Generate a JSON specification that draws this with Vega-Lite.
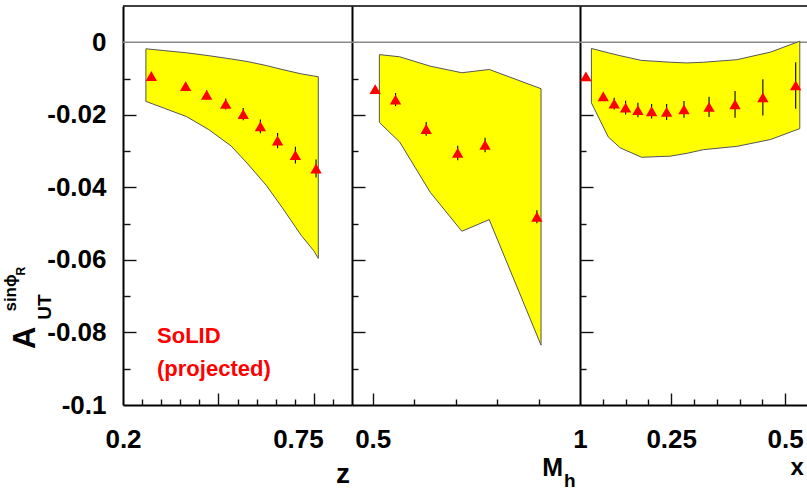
{
  "$schema": "https://vega.github.io/schema/vega-lite/v6.json",
  "width": 684,
  "height": 399,
  "autosize": {"type": "none"},
  "padding": {"left": 123, "top": 6, "right": 0, "bottom": 90},
  "background": "white",
  "config": {
    "view": {"stroke": null},
    "font": "Liberation Sans",
    "axis": {
      "grid": false,
      "domain": false,
      "labelFont": "Liberation Sans",
      "labelFontWeight": "bold",
      "labelFontSize": 26,
      "labelColor": "black",
      "tickColor": "#111111",
      "tickWidth": 1.4,
      "labelFlush": false,
      "labelOverlap": false,
      "zindex": 1,
      "domainColor": "black",
      "domainWidth": 2,
      "title": null
    },
    "text": {"font": "Liberation Sans", "fontWeight": "bold", "color": "black"}
  },
  "datasets": {
    "zBand": [
      {"v": 0.272, "hi": -0.0018, "lo": -0.0163},
      {"v": 0.33, "hi": -0.0023, "lo": -0.0182},
      {"v": 0.40, "hi": -0.0029, "lo": -0.0205},
      {"v": 0.47, "hi": -0.0037, "lo": -0.0241},
      {"v": 0.54, "hi": -0.0046, "lo": -0.0286},
      {"v": 0.59, "hi": -0.0053, "lo": -0.0333},
      {"v": 0.65, "hi": -0.0064, "lo": -0.0394},
      {"v": 0.70, "hi": -0.0075, "lo": -0.0455},
      {"v": 0.76, "hi": -0.0087, "lo": -0.0532},
      {"v": 0.80, "hi": -0.0093, "lo": -0.0575},
      {"v": 0.814, "hi": -0.0095, "lo": -0.0596}
    ],
    "zPts": [
      {"v": 0.289, "a": -0.0093, "err": 0.0010},
      {"v": 0.397, "a": -0.0121, "err": 0.0011},
      {"v": 0.463, "a": -0.0145, "err": 0.0013},
      {"v": 0.523, "a": -0.0170, "err": 0.0015},
      {"v": 0.578, "a": -0.0198, "err": 0.0017},
      {"v": 0.632, "a": -0.0232, "err": 0.0019},
      {"v": 0.686, "a": -0.0271, "err": 0.0021},
      {"v": 0.742, "a": -0.0311, "err": 0.0023},
      {"v": 0.807, "a": -0.0348, "err": 0.0025}
    ],
    "mBand": [
      {"v": 0.516, "hi": -0.0034, "lo": -0.0221},
      {"v": 0.565, "hi": -0.0040, "lo": -0.0275},
      {"v": 0.639, "hi": -0.0066, "lo": -0.0414},
      {"v": 0.715, "hi": -0.0084, "lo": -0.0521},
      {"v": 0.781, "hi": -0.0075, "lo": -0.0489},
      {"v": 0.906, "hi": -0.0128, "lo": -0.0835}
    ],
    "mPts": [
      {"v": 0.506, "a": -0.0129, "err": 0.0008},
      {"v": 0.555, "a": -0.0158, "err": 0.0018},
      {"v": 0.629, "a": -0.0239, "err": 0.0019},
      {"v": 0.705, "a": -0.0305, "err": 0.0020},
      {"v": 0.771, "a": -0.0283, "err": 0.0020},
      {"v": 0.896, "a": -0.0481, "err": 0.0018}
    ],
    "xBand": [
      {"v": 0.075, "hi": -0.0017, "lo": -0.0167},
      {"v": 0.112, "hi": -0.0029, "lo": -0.0261},
      {"v": 0.138, "hi": -0.0037, "lo": -0.0291},
      {"v": 0.185, "hi": -0.0050, "lo": -0.0317},
      {"v": 0.248, "hi": -0.0055, "lo": -0.0314},
      {"v": 0.285, "hi": -0.0057, "lo": -0.0306},
      {"v": 0.321, "hi": -0.0055, "lo": -0.0296},
      {"v": 0.394, "hi": -0.0048, "lo": -0.0287},
      {"v": 0.468, "hi": -0.0027, "lo": -0.0268},
      {"v": 0.532, "hi": 0.0003, "lo": -0.0238}
    ],
    "xPts": [
      {"v": 0.063, "a": -0.0094, "err": 0.0008},
      {"v": 0.101, "a": -0.0149, "err": 0.0010},
      {"v": 0.125, "a": -0.0169, "err": 0.0016},
      {"v": 0.150, "a": -0.0180, "err": 0.0019},
      {"v": 0.177, "a": -0.0187, "err": 0.0020},
      {"v": 0.207, "a": -0.0190, "err": 0.0020},
      {"v": 0.240, "a": -0.0192, "err": 0.0022},
      {"v": 0.278, "a": -0.0185, "err": 0.0023},
      {"v": 0.333, "a": -0.0178, "err": 0.0028},
      {"v": 0.390, "a": -0.0171, "err": 0.0037},
      {"v": 0.451, "a": -0.0152, "err": 0.0050},
      {"v": 0.523, "a": -0.0119, "err": 0.0064}
    ]
  },
  "resolve": {"scale": {"x": "independent"}, "axis": {"x": "independent", "y": "independent"}},
  "layer": [
    {
      "resolve": {"axis": {"x": "independent", "y": "independent"}},
      "layer": [
        {
          "data": {"name": "zBand"},
          "mark": {"type": "area", "color": "#ffff00", "stroke": "#555555", "strokeWidth": 1, "opacity": 1},
          "encoding": {
            "x": {"field": "v", "type": "quantitative",
                  "scale": {"domain": [0.2, 0.92], "range": [0, 229], "nice": false, "zero": false},
                  "axis": {"orient": "bottom", "values": [0.2, 0.75], "ticks": false, "domain": true, "labelPadding": 21,
                           "labelExpr": "datum.value < 0.5 ? '0.2' : '0.75'"}},
            "y": {"field": "hi", "type": "quantitative",
                  "scale": {"domain": [-0.1, 0.01], "nice": false, "zero": false},
                  "axis": {"orient": "left", "values": [0, -0.02, -0.04, -0.06, -0.08, -0.1], "ticks": false, "labelPadding": 17, "domain": true,
                           "labelExpr": "datum.value == 0 ? '0' : '-' + format(-datum.value, '~g')"}},
            "y2": {"field": "lo"}
          }
        },
        {
          "data": {"values": [{}]},
          "mark": {"type": "rule", "color": "#888888", "strokeWidth": 1.7},
          "encoding": {"y": {"datum": 0, "type": "quantitative", "scale": {"domain": [-0.1, 0.01], "nice": false, "zero": false}, "axis": null}}
        },
        {
          "data": {"values": [{}]},
          "mark": {"type": "rule", "color": "black", "strokeWidth": 1.7},
          "encoding": {"y": {"datum": 0.01, "type": "quantitative", "scale": {"domain": [-0.1, 0.01], "nice": false, "zero": false}, "axis": null}}
        },
        {
          "data": {"name": "zPts"},
          "mark": {"type": "errorbar", "color": "black", "thickness": 1.1},
          "encoding": {
            "x": {"field": "v", "type": "quantitative", "scale": {"domain": [0.2, 0.92], "range": [0, 229], "nice": false, "zero": false}, "axis": null},
            "y": {"field": "a", "type": "quantitative", "scale": {"domain": [-0.1, 0.01], "nice": false, "zero": false}, "axis": null},
            "yError": {"field": "err"}
          }
        },
        {
          "data": {"name": "zPts"},
          "mark": {"type": "point", "shape": "triangle-up", "filled": true, "color": "#ff0000", "size": 130, "opacity": 1},
          "encoding": {
            "x": {"field": "v", "type": "quantitative",
                  "scale": {"domain": [0.2, 0.92], "range": [0, 229], "nice": false, "zero": false},
                  "axis": {"orient": "bottom", "values": [0.5, 0.8], "offset": -12, "tickSize": 12, "labels": false}},
            "y": {"field": "a", "type": "quantitative",
                  "scale": {"domain": [-0.1, 0.01], "nice": false, "zero": false},
                  "axis": {"orient": "left", "values": [-0.02, -0.04, -0.06, -0.08], "offset": -13, "tickSize": 13, "labels": false}}
          }
        },
        {
          "data": {"values": [{}]},
          "mark": {"type": "text", "text": "SoLID", "fontSize": 22, "color": "#ff0000", "align": "left", "baseline": "alphabetic"},
          "encoding": {
            "x": {"datum": 0.307, "type": "quantitative",
                  "scale": {"domain": [0.2, 0.92], "range": [0, 229], "nice": false, "zero": false},
                  "axis": {"orient": "bottom", "values": [0.26, 0.32, 0.38, 0.44, 0.56, 0.62, 0.68, 0.74, 0.86], "offset": -6, "tickSize": 6, "labels": false}},
            "y": {"datum": -0.0828, "type": "quantitative",
                  "scale": {"domain": [-0.1, 0.01], "nice": false, "zero": false},
                  "axis": {"orient": "left", "values": [-0.01, -0.03, -0.05, -0.07, -0.09], "offset": -7, "tickSize": 7, "labels": false}}
          }
        },
        {
          "data": {"values": [{}]},
          "mark": {"type": "text", "text": "(projected)", "fontSize": 22, "color": "#ff0000", "align": "left", "baseline": "alphabetic"},
          "encoding": {
            "x": {"datum": 0.307, "type": "quantitative", "scale": {"domain": [0.2, 0.92], "range": [0, 229], "nice": false, "zero": false}, "axis": null},
            "y": {"datum": -0.0920, "type": "quantitative", "scale": {"domain": [-0.1, 0.01], "nice": false, "zero": false}, "axis": null}
          }
        },
        {
          "data": {"values": [{}]},
          "mark": {"type": "text", "text": "A", "fontSize": 31, "angle": 270, "align": "center", "baseline": "middle"},
          "encoding": {
            "x": {"datum": -0.105, "type": "quantitative", "scale": {"domain": [0.2, 0.92], "range": [0, 229], "nice": false, "zero": false}, "axis": null},
            "y": {"datum": -0.0815, "type": "quantitative", "scale": {"domain": [-0.1, 0.01], "nice": false, "zero": false}, "axis": null}
          }
        },
        {
          "data": {"values": [{}]},
          "mark": {"type": "text", "text": "UT", "fontSize": 19, "angle": 270, "align": "center", "baseline": "middle"},
          "encoding": {
            "x": {"datum": -0.0452, "type": "quantitative", "scale": {"domain": [0.2, 0.92], "range": [0, 229], "nice": false, "zero": false}, "axis": null},
            "y": {"datum": -0.0730, "type": "quantitative", "scale": {"domain": [-0.1, 0.01], "nice": false, "zero": false}, "axis": null}
          }
        },
        {
          "data": {"values": [{}]},
          "mark": {"type": "text", "text": "sinϕ", "fontSize": 17, "angle": 270, "align": "center", "baseline": "middle"},
          "encoding": {
            "x": {"datum": -0.152, "type": "quantitative", "scale": {"domain": [0.2, 0.92], "range": [0, 229], "nice": false, "zero": false}, "axis": null},
            "y": {"datum": -0.0691, "type": "quantitative", "scale": {"domain": [-0.1, 0.01], "nice": false, "zero": false}, "axis": null}
          }
        },
        {
          "data": {"values": [{}]},
          "mark": {"type": "text", "text": "R", "fontSize": 12, "angle": 270, "align": "center", "baseline": "middle"},
          "encoding": {
            "x": {"datum": -0.1207, "type": "quantitative", "scale": {"domain": [0.2, 0.92], "range": [0, 229], "nice": false, "zero": false}, "axis": null},
            "y": {"datum": -0.0631, "type": "quantitative", "scale": {"domain": [-0.1, 0.01], "nice": false, "zero": false}, "axis": null}
          }
        },
        {
          "data": {"values": [{}]},
          "mark": {"type": "text", "text": "z", "fontSize": 28, "align": "right", "baseline": "alphabetic"},
          "encoding": {
            "x": {"datum": 0.9137, "type": "quantitative", "scale": {"domain": [0.2, 0.92], "range": [0, 229], "nice": false, "zero": false}, "axis": null},
            "y": {"datum": -0.1215, "type": "quantitative", "scale": {"domain": [-0.1, 0.01], "nice": false, "zero": false}, "axis": null}
          }
        }
      ]
    },
    {
      "resolve": {"axis": {"x": "independent", "y": "independent"}},
      "layer": [
        {
          "data": {"name": "mBand"},
          "mark": {"type": "area", "color": "#ffff00", "stroke": "#555555", "strokeWidth": 1, "opacity": 1},
          "encoding": {
            "x": {"field": "v", "type": "quantitative",
                  "scale": {"domain": [0.45, 1.0], "range": [229, 457], "nice": false, "zero": false},
                  "axis": {"orient": "bottom", "values": [0.5, 1.0], "ticks": false, "domain": true, "labelPadding": 21,
                           "labelExpr": "datum.value > 0.75 ? '1' : '0.5'"}},
            "y": {"field": "hi", "type": "quantitative",
                  "scale": {"domain": [-0.1, 0.01], "nice": false, "zero": false},
                  "axis": {"orient": "left", "offset": -229, "ticks": false, "labels": false, "domain": true}},
            "y2": {"field": "lo"}
          }
        },
        {
          "data": {"name": "mPts"},
          "mark": {"type": "errorbar", "color": "black", "thickness": 1.1},
          "encoding": {
            "x": {"field": "v", "type": "quantitative", "scale": {"domain": [0.45, 1.0], "range": [229, 457], "nice": false, "zero": false}, "axis": null},
            "y": {"field": "a", "type": "quantitative", "scale": {"domain": [-0.1, 0.01], "nice": false, "zero": false}, "axis": null},
            "yError": {"field": "err"}
          }
        },
        {
          "data": {"name": "mPts"},
          "mark": {"type": "point", "shape": "triangle-up", "filled": true, "color": "#ff0000", "size": 130, "opacity": 1},
          "encoding": {
            "x": {"field": "v", "type": "quantitative",
                  "scale": {"domain": [0.45, 1.0], "range": [229, 457], "nice": false, "zero": false},
                  "axis": {"orient": "bottom", "values": [0.5], "offset": -12, "tickSize": 12, "labels": false}},
            "y": {"field": "a", "type": "quantitative",
                  "scale": {"domain": [-0.1, 0.01], "nice": false, "zero": false},
                  "axis": {"orient": "left", "values": [-0.02, -0.04, -0.06, -0.08], "offset": -242, "tickSize": 13, "labels": false}}
          }
        },
        {
          "data": {"values": [{}]},
          "mark": {"type": "text", "text": "M", "fontSize": 25, "align": "right", "baseline": "alphabetic"},
          "encoding": {
            "x": {"datum": 0.959, "type": "quantitative",
                  "scale": {"domain": [0.45, 1.0], "range": [229, 457], "nice": false, "zero": false},
                  "axis": {"orient": "bottom", "values": [0.6, 0.7, 0.8, 0.9], "offset": -6, "tickSize": 6, "labels": false}},
            "y": {"datum": -0.1196, "type": "quantitative",
                  "scale": {"domain": [-0.1, 0.01], "nice": false, "zero": false},
                  "axis": {"orient": "left", "values": [-0.01, -0.03, -0.05, -0.07, -0.09], "offset": -235, "tickSize": 6, "labels": false}}
          }
        },
        {
          "data": {"values": [{}]},
          "mark": {"type": "text", "text": "h", "fontSize": 19, "align": "left", "baseline": "alphabetic"},
          "encoding": {
            "x": {"datum": 0.9615, "type": "quantitative", "scale": {"domain": [0.45, 1.0], "range": [229, 457], "nice": false, "zero": false}, "axis": null},
            "y": {"datum": -0.1225, "type": "quantitative", "scale": {"domain": [-0.1, 0.01], "nice": false, "zero": false}, "axis": null}
          }
        }
      ]
    },
    {
      "resolve": {"axis": {"x": "independent", "y": "independent"}},
      "layer": [
        {
          "data": {"name": "xBand"},
          "mark": {"type": "area", "color": "#ffff00", "stroke": "#555555", "strokeWidth": 1, "opacity": 1},
          "encoding": {
            "x": {"field": "v", "type": "quantitative",
                  "scale": {"domain": [0.05, 0.55], "range": [457, 685], "nice": false, "zero": false},
                  "axis": {"orient": "bottom", "values": [0.25, 0.5], "ticks": false, "domain": true, "labelPadding": 21,
                           "labelExpr": "datum.value > 0.4 ? '0.5' : '0.25'"}},
            "y": {"field": "hi", "type": "quantitative",
                  "scale": {"domain": [-0.1, 0.01], "nice": false, "zero": false},
                  "axis": {"orient": "left", "offset": -457, "ticks": false, "labels": false, "domain": true}},
            "y2": {"field": "lo"}
          }
        },
        {
          "data": {"name": "xPts"},
          "mark": {"type": "errorbar", "color": "black", "thickness": 1.1},
          "encoding": {
            "x": {"field": "v", "type": "quantitative", "scale": {"domain": [0.05, 0.55], "range": [457, 685], "nice": false, "zero": false}, "axis": null},
            "y": {"field": "a", "type": "quantitative", "scale": {"domain": [-0.1, 0.01], "nice": false, "zero": false}, "axis": null},
            "yError": {"field": "err"}
          }
        },
        {
          "data": {"name": "xPts"},
          "mark": {"type": "point", "shape": "triangle-up", "filled": true, "color": "#ff0000", "size": 130, "opacity": 1},
          "encoding": {
            "x": {"field": "v", "type": "quantitative",
                  "scale": {"domain": [0.05, 0.55], "range": [457, 685], "nice": false, "zero": false},
                  "axis": {"orient": "bottom", "values": [0.25, 0.5], "offset": -12, "tickSize": 12, "labels": false}},
            "y": {"field": "a", "type": "quantitative",
                  "scale": {"domain": [-0.1, 0.01], "nice": false, "zero": false},
                  "axis": {"orient": "left", "values": [-0.02, -0.04, -0.06, -0.08], "offset": -470, "tickSize": 13, "labels": false}}
          }
        },
        {
          "data": {"values": [{}]},
          "mark": {"type": "text", "text": "x", "fontSize": 24, "align": "right", "baseline": "alphabetic"},
          "encoding": {
            "x": {"datum": 0.541, "type": "quantitative",
                  "scale": {"domain": [0.05, 0.55], "range": [457, 685], "nice": false, "zero": false},
                  "axis": {"orient": "bottom", "values": [0.1, 0.15, 0.2, 0.3, 0.35, 0.4, 0.45], "offset": -6, "tickSize": 6, "labels": false}},
            "y": {"datum": -0.1192, "type": "quantitative",
                  "scale": {"domain": [-0.1, 0.01], "nice": false, "zero": false},
                  "axis": {"orient": "left", "values": [-0.01, -0.03, -0.05, -0.07, -0.09], "offset": -463, "tickSize": 6, "labels": false}}
          }
        }
      ]
    }
  ]
}
